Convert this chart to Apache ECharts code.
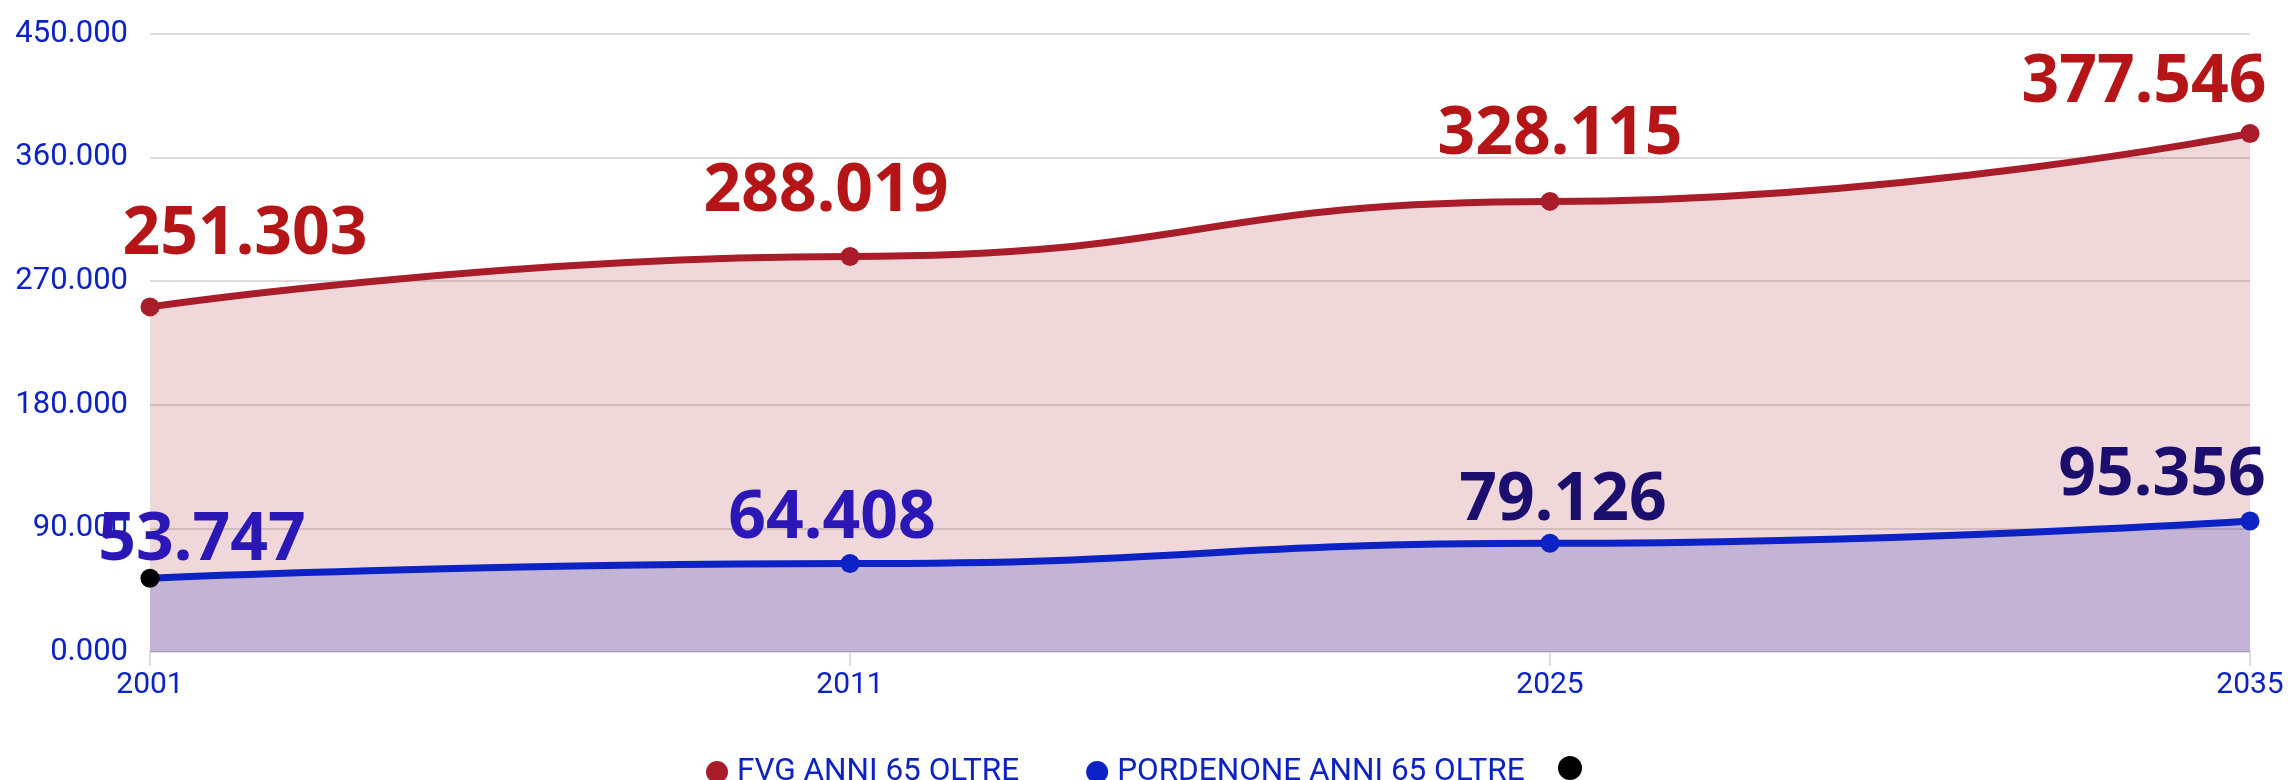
<!DOCTYPE html>
<html>
<head>
<meta charset="utf-8">
<title>Anni 65 oltre</title>
<script src="https://cdn.jsdelivr.net/npm/echarts@6/dist/echarts.min.js"></script>
<style>
  html, body { margin: 0; padding: 0; background: #fff; }
  #chart { width: 2288px; height: 780px; }
</style>
</head>
<body>
<div id="chart"></div>
<script>
// dati
var anni = ['2001', '2011', '2025', '2035'];
var fvg = [251303, 288019, 328115, 377546];
var pordenone = [53747, 64408, 79126, 95356];
var nomi = ['FVG ANNI 65 OLTRE', 'PORDENONE ANNI 65 OLTRE'];

var blu = '#0c22c4';
var rosso = '#a91d2a';

// spostamento delle etichette rispetto al punto
var offFvg = [[95, -29], [-24, -22], [10, -24], [-106, -8]];
var offPn = [[52, 6], [-18, -2], [13, 0], [-88, -2]];
var coloriPn = ['#2b17b6', '#2b17b6', '#1c0e6e', '#1c0e6e'];

function fmt(v) {
    return (v / 1000).toFixed(3);
}

var chartDom = document.getElementById('chart');
var myChart = echarts.init(chartDom);
var option;

var datiFvg = fvg.map(function (v, i) {
    return { value: v, label: { offset: offFvg[i] } };
});
var datiPn = pordenone.map(function (v, i) {
    var d = { value: v, label: { offset: offPn[i], color: coloriPn[i] } };
    if (i === 0) d.itemStyle = { color: '#000' };
    return d;
});

var labelBase = {
    show: true,
    position: 'top',
    distance: 0,
    fontFamily: 'Noto Sans',
    fontWeight: 'bold',
    fontSize: 66,
    lineHeight: 66,
    formatter: function (p) { return fmt(p.value); }
};

option = {
    animation: false,
    textStyle: { fontFamily: 'Roboto' },
    grid: {
        left: 150,
        right: 38,
        top: 34,
        bottom: 128
    },
    legend: [
        {
            data: nomi,
            left: 701,
            top: 751,
            icon: 'circle',
            itemWidth: 30,
            itemHeight: 22,
            itemGap: 67,
            textStyle: { color: blu, fontSize: 31.5, fontFamily: 'Roboto' }
        },
        {
            data: ['punto'],
            left: 1553,
            top: 751,
            icon: 'circle',
            itemWidth: 24,
            itemHeight: 24,
            formatter: function () { return ''; },
            textStyle: { fontSize: 31 }
        }
    ],
    xAxis: {
        type: 'category',
        data: anni,
        boundaryGap: false,
        axisLine: { lineStyle: { color: '#dcdcdc', width: 2 } },
        axisTick: { show: true, length: 14, lineStyle: { color: '#dcdcdc', width: 2 } },
        axisLabel: { color: blu, fontSize: 30, margin: 18, fontFamily: 'Roboto' },
        splitLine: { show: false }
    },
    yAxis: {
        type: 'value',
        min: 0,
        max: 450000,
        interval: 90000,
        axisLine: { show: false },
        axisTick: { show: false },
        axisLabel: {
            color: blu,
            fontSize: 31,
            margin: 22,
            fontFamily: 'Roboto',
            padding: [0, 0, 16, 0],
            formatter: fmt
        },
        splitLine: { lineStyle: { color: '#dcdcdc', width: 2 } }
    },
    series: [
        {
            name: nomi[0],
            type: 'line',
            smooth: 0.5,
            smoothMonotone: 'x',
            data: datiFvg,
            symbol: 'circle',
            symbolSize: 19,
            itemStyle: { color: rosso },
            lineStyle: { color: rosso, width: 7 },
            areaStyle: { color: 'rgba(169,29,42,0.25)' },
            label: Object.assign({}, labelBase, { color: '#b51516' }),
            z: 2
        },
        {
            name: nomi[1],
            type: 'line',
            smooth: 0.5,
            smoothMonotone: 'x',
            data: datiPn,
            symbol: 'circle',
            symbolSize: 19,
            itemStyle: { color: blu },
            lineStyle: { color: blu, width: 7 },
            areaStyle: { color: 'rgba(10,31,196,0.28)' },
            label: Object.assign({}, labelBase, { color: '#2b17b6' }),
            z: 3
        },
        {
            name: 'punto',
            type: 'line',
            data: [],
            symbol: 'circle',
            itemStyle: { color: '#000' },
            lineStyle: { color: '#000' }
        }
    ]
};

option && myChart.setOption(option);

window.onresize = function () {
    myChart.resize();
};
</script>
</body>
</html>
